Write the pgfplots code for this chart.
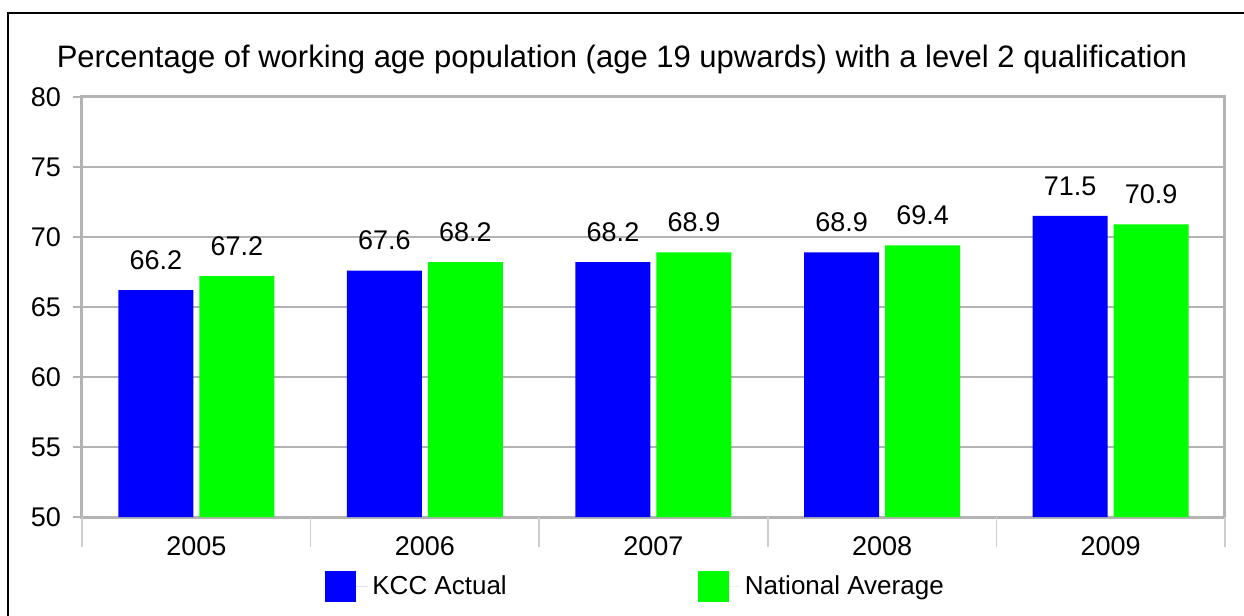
\documentclass[border=0pt]{standalone}
\usepackage{pgfplots}
\pgfplotsset{compat=1.18}
\usepackage{fontspec}
\setmainfont{Liberation Sans}

\definecolor{kccblue}{RGB}{0,0,255}
\definecolor{natgreen}{RGB}{0,255,0}
\definecolor{gridgray}{RGB}{179,179,179}
\definecolor{sepgray}{RGB}{205,205,205}

\pgfplotsset{
    sqlegend/.style={legend image code/.code={
        \fill[##1] (0pt,-7.75pt) rectangle (15.5pt,7.75pt);
        \path (0pt,0pt) -- (21.5pt,0pt);}},
}

\begin{document}
\begin{tikzpicture}
\begin{axis}[
    at={(0pt,0pt)}, anchor=south west,
    scale only axis,
    width=571.5pt, height=210pt,
    ybar=3pt, bar width=37.5pt,
    xmin=-0.5, xmax=4.5,
    ymin=50, ymax=80,
    ytick={50,55,...,80},
    xtick={0,1,2,3,4},
    xticklabels={2005,2006,2007,2008,2009},
    xtick style={draw=none},
    extra x ticks={-0.5,0.5,1.5,2.5,3.5,4.5},
    extra x tick labels={},
    extra x tick style={xtick style={draw=sepgray, line width=0.8pt}, major tick length=15pt},
    tick pos=left,
    ymajorgrids,
    grid style={gridgray, line width=1.2pt},
    axis line style={gridgray, line width=1.5pt},
    ytick style={gridgray, line width=1.2pt},
    tick align=outside,
    major tick length=4.5pt,
    tick label style={font=\fontsize{13.5}{16}\selectfont},
    yticklabel style={xshift=-2.5pt},
    xticklabel style={yshift=-2pt},
    /pgf/number format/assume math mode=true,
    nodes near coords={\pgfmathprintnumber[fixed,fixed zerofill,precision=1]{\pgfplotspointmeta}},
    nodes near coords style={font=\fontsize{13.5}{16}\selectfont, text=black, yshift=6.7pt},
    legend style={at={(0.2126,-0.1655)}, anchor=west, draw=none, fill=none,
        inner sep=0pt, font=\fontsize{13}{15}\selectfont,
        /tikz/every even column/.append style={column sep=93.5pt}},
    legend columns=2,
]

\addplot[fill=kccblue, draw=none, sqlegend] coordinates {
    (0, 66.2)
    (1, 67.6)
    (2, 68.2)
    (3, 68.9)
    (4, 71.5)
};
\addlegendentry{KCC Actual}

\addplot[fill=natgreen, draw=none, sqlegend] coordinates {
    (0, 67.2)
    (1, 68.2)
    (2, 68.9)
    (3, 69.4)
    (4, 70.9)
};
\addlegendentry{National Average}

\end{axis}
% outer frame (only left and top edges visible)
\draw[black, line width=1.1pt] (-37pt,-60pt) -- (-37pt,252pt) -- (600pt,252pt);
\node[anchor=base, font=\fontsize{15.5}{18}\selectfont] at (270pt,224.5pt)
    {Percentage of working age population (age 19 upwards) with a level 2 qualification};
\pgfresetboundingbox
\useasboundingbox (-41pt,-49.5pt) rectangle (581pt,258.5pt);
\end{tikzpicture}
\end{document}
